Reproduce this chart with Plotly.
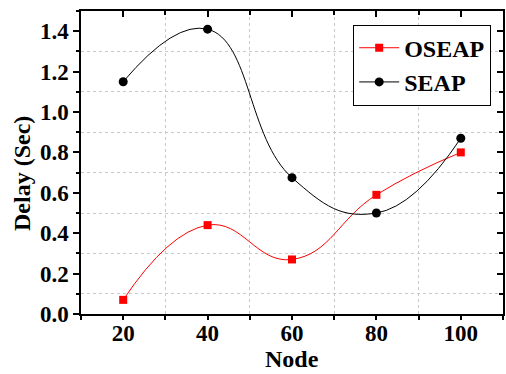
import plotly.graph_objects as go

nodes = [20, 40, 60, 80, 100]
oseap = [0.07, 0.44, 0.27, 0.59, 0.80]
seap = [1.15, 1.41, 0.675, 0.50, 0.87]

font_family = "Liberation Serif"

fig = go.Figure()
fig.add_trace(go.Scatter(x=nodes, y=oseap, name="OSEAP", mode="lines+markers",
                         line=dict(color="#ff0000", width=1, shape="spline", smoothing=1.3),
                         marker=dict(symbol="square", size=8, color="#ff0000")))
fig.add_trace(go.Scatter(x=nodes, y=seap, name="SEAP", mode="lines+markers",
                         line=dict(color="#000000", width=1, shape="spline", smoothing=1.3),
                         marker=dict(symbol="circle", size=9, color="#000000")))

axis_common = dict(showline=True, linecolor="black", linewidth=1.5, showgrid=False, automargin=False,
                   zeroline=False, ticks="outside", tickwidth=1.5, tickcolor="black",
                   tickfont=dict(family=font_family, size=23, color="black", weight="bold"))

fig.update_layout(
    width=506, height=374,
    margin=dict(l=81, r=3, t=11, b=60),
    paper_bgcolor="white", plot_bgcolor="white",
    font=dict(family=font_family, color="black"),
    xaxis=dict(range=[10, 110], tick0=20, dtick=20, ticklen=4, ticklabelstandoff=-6,
               minor=dict(tick0=10, dtick=20, showgrid=True, gridcolor="#c8c8c8", griddash="dot",
                          gridwidth=1, ticks="outside", ticklen=4, tickcolor="black"),
               **axis_common),
    yaxis=dict(range=[0, 1.5], tick0=0, dtick=0.2, tickformat=".1f", ticklen=6,
               minor=dict(tick0=0.1, dtick=0.2, showgrid=True, gridcolor="#c8c8c8", griddash="dot",
                          gridwidth=1, ticks="outside", ticklen=3, tickcolor="black"),
               **axis_common),
    xaxis2=dict(overlaying="x", matches="x", side="top", range=[10, 110], tick0=20, dtick=20,
                showticklabels=False, showline=True, linecolor="black", linewidth=1.5, automargin=False,
                ticks="inside", ticklen=6, tickwidth=1.5, tickcolor="black", showgrid=False, zeroline=False,
                minor=dict(tick0=10, dtick=20, ticks="inside", ticklen=4, tickcolor="black")),
    yaxis2=dict(overlaying="y", matches="y", side="right", range=[0, 1.5], tick0=0, dtick=0.2,
                showticklabels=False, showline=True, linecolor="black", linewidth=1.5, automargin=False,
                ticks="inside", ticklen=6, tickwidth=1.5, tickcolor="black", showgrid=False, zeroline=False,
                minor=dict(tick0=0.1, dtick=0.2, ticks="inside", ticklen=4, tickcolor="black")),
    legend=dict(x=0.645, y=0.955, xanchor="left", yanchor="top",
                bordercolor="black", borderwidth=1, bgcolor="white",
                font=dict(family=font_family, size=24, weight="bold", color="black"),
                itemwidth=40, tracegroupgap=0),
    showlegend=True,
    annotations=[
        dict(text="Node", xref="paper", yref="paper", x=0.5, y=(314 - 359) / 303,
             xanchor="center", yanchor="middle", showarrow=False, borderpad=0,
             font=dict(family=font_family, size=24, weight="bold", color="black")),
        dict(text="Delay (Sec)", xref="paper", yref="paper", x=(22 - 81) / 422, y=(314 - 174) / 303,
             xanchor="center", yanchor="middle", showarrow=False, textangle=-90, borderpad=0,
             font=dict(family=font_family, size=24, weight="bold", color="black")),
    ],
)
fig.add_trace(go.Scatter(x=[None], y=[None], xaxis="x2", yaxis="y2", showlegend=False, hoverinfo="skip"))

fig.write_html("out.html", config={"displayModeBar": False},
               post_script="document.body.style.margin='0';document.body.style.padding='0';document.body.style.overflow='hidden';")
